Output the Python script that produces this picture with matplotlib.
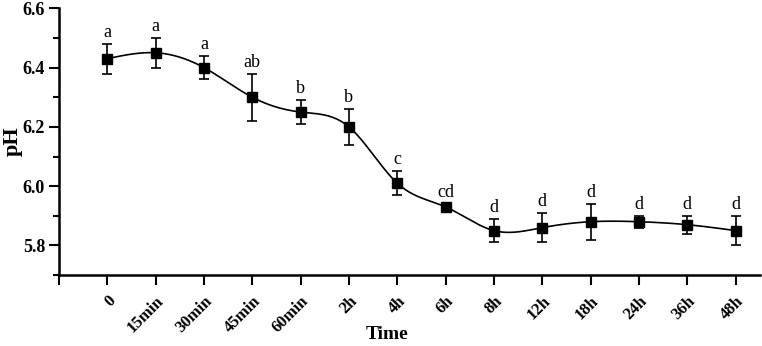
import numpy as np
import matplotlib
matplotlib.use("Agg")
import matplotlib.pyplot as plt
from matplotlib.ticker import MultipleLocator

labels = ["0", "15min", "30min", "45min", "60min", "2h", "4h", "6h", "8h",
          "12h", "18h", "24h", "36h", "48h"]
ph = [6.43, 6.45, 6.40, 6.30, 6.25, 6.20, 6.01, 5.93, 5.85, 5.86, 5.88, 5.88, 5.87, 5.85]
err = [0.05, 0.05, 0.04, 0.08, 0.04, 0.06, 0.04, 0.01, 0.04, 0.05, 0.06, 0.02, 0.03, 0.05]
letters = ["a", "a", "a", "ab", "b", "b", "c", "cd", "d", "d", "d", "d", "d", "d"]

plt.rcParams['font.family'] = ['Liberation Serif', 'DejaVu Serif']

def natural_spline(x, y, n=40):
    x = np.asarray(x, float); y = np.asarray(y, float)
    m = len(x); h = np.diff(x)
    A = np.zeros((m, m)); b = np.zeros(m)
    A[0, 0] = A[-1, -1] = 1
    for i in range(1, m - 1):
        A[i, i - 1] = h[i - 1]; A[i, i] = 2 * (h[i - 1] + h[i]); A[i, i + 1] = h[i]
        b[i] = 3 * ((y[i + 1] - y[i]) / h[i] - (y[i] - y[i - 1]) / h[i - 1])
    c = np.linalg.solve(A, b)
    xs, ys = [], []
    for i in range(m - 1):
        t = np.linspace(0, h[i], n, endpoint=(i == m - 2))
        bi = (y[i + 1] - y[i]) / h[i] - h[i] * (2 * c[i] + c[i + 1]) / 3
        di = (c[i + 1] - c[i]) / (3 * h[i])
        xs.append(x[i] + t); ys.append(y[i] + bi * t + c[i] * t ** 2 + di * t ** 3)
    return np.concatenate(xs), np.concatenate(ys)

x = np.arange(len(labels))
fig = plt.figure(figsize=(7.62, 3.46), dpi=100)
ax = fig.add_axes([0.0774, 0.205, 0.9196, 0.771])

sx, sy = natural_spline(x, ph)
ax.plot(sx, sy, color='black', lw=1.2, zorder=2)
ax.errorbar(x, ph, yerr=err, fmt='s', color='black', ms=7.5, ecolor='black',
            elinewidth=1.2, capsize=3.5, capthick=1.2, zorder=3)
for xi, yi, ei, lt in zip(x, ph, err, letters):
    ax.text(xi, yi + ei + 0.01, lt, ha='center', va='bottom', fontsize=13)

ax.set_xlim(-1, 13.5)
ax.set_ylim(5.7, 6.6)
ax.set_xticks(np.arange(-1, 14))
ax.set_xticklabels([""] + labels, rotation=45, ha='right', rotation_mode='anchor',
                   fontsize=12, fontweight='bold')
ax.yaxis.set_minor_locator(MultipleLocator(0.1))
ax.set_yticks([5.8, 6.0, 6.2, 6.4, 6.6])
ax.set_yticklabels(["5.8", "6.0", "6.2", "6.4", "6.6"], fontsize=13, fontweight='bold')
ax.tick_params(axis='x', which='major', direction='out', length=7, width=1.5, pad=6)
ax.tick_params(axis='y', which='major', direction='out', length=7, width=1.5, pad=3)
ax.tick_params(axis='y', which='minor', direction='out', length=4, width=1.5)
for s in ['top', 'right']:
    ax.spines[s].set_visible(False)
for s in ['left', 'bottom']:
    ax.spines[s].set_linewidth(1.8)
ax.set_xlabel("Time", fontsize=14, fontweight='bold', va='top')
ax.xaxis.set_label_coords(0.468, -0.19)
ax.set_ylabel("pH", fontsize=16, fontweight='bold')
ax.yaxis.set_label_coords(-0.052, 0.5)

fig.savefig("out.png", dpi=100)
